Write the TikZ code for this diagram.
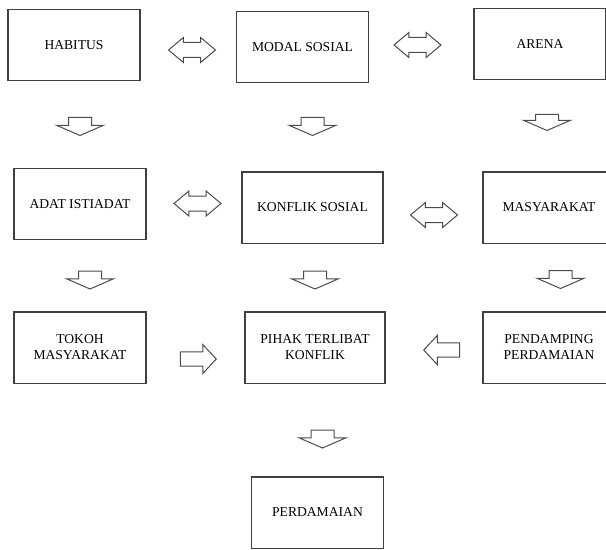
\documentclass[tikz,border=0pt]{standalone}
\usepackage{fontspec}
\setmainfont{Liberation Serif}
\usepackage{tikz}
\usetikzlibrary{shapes.arrows}
\tikzset{box/.style={rectangle, draw=black!75, line width=1pt, minimum width=99pt, minimum height=53.5pt, align=center, inner sep=1pt, font=\fontsize{10.2}{12}\selectfont},
box/.default={}}
\tikzset{down/.style={single arrow, draw=black!70, fill=white, line width=0.75pt, rotate=-90, inner xsep=0pt, inner ysep=8.25pt, minimum height=13.5pt, single arrow head extend=9pt, single arrow tip angle=133, single arrow head indent=0pt}}
\tikzset{side/.style={single arrow, draw=black!70, fill=white, line width=0.75pt, inner xsep=0pt, inner ysep=4.9pt, minimum height=27pt, single arrow head extend=5.6pt, single arrow tip angle=94, single arrow head indent=0pt}}
\tikzset{both/.style={double arrow, draw=black!70, fill=white, line width=0.75pt, inner xsep=0pt, inner ysep=5.25pt, minimum height=35.25pt, double arrow head extend=3.75pt, double arrow tip angle=80, double arrow head indent=0pt}}

\begin{document}
\begin{tikzpicture}[x=0.75pt,y=-0.75pt]
		\useasboundingbox (0,0) rectangle (606,549);
		% boxes
		\node[box] (habitus) at (74,45) {HABITUS};
		\node[box] (modal) at (302.5,47) {MODAL SOSIAL};
		\node[box] (arena) at (540,44) {ARENA};
		\node[box] (adat) at (80,204) {ADAT ISTIADAT};
		\node[box,minimum width=105.75pt] (konflik) at (312.5,207.5) {KONFLIK SOSIAL};
		\node[box] (masyarakat) at (549,207.5) {MASYARAKAT};
		\node[box] (tokoh) at (80,347.5) {TOKOH\\MASYARAKAT};
		\node[box,minimum width=105pt] (pihak) at (315,347.5) {PIHAK TERLIBAT\\KONFLIK};
		\node[box] (pendamping) at (549,347.5) {PENDAMPING\\PERDAMAIAN};
		\node[box] (perdamaian) at (317.5,512.5) {PERDAMAIAN};
		% arrows between
		\node[both] (habitus-modal) at (192,50) {};
		\node[both] (modal-arena) at (417.5,45) {};
		\node[both] (adat-konflik) at (197.5,203.5) {};
		\node[both] (konflik-masyarakat) at (434,215) {};
		\node[down] (habitus-adat) at (80,124) {};
		\node[down] (modal-konflik) at (312.5,124) {};
		\node[down,minimum height=12pt] (arena-masyarakat) at (547,120) {};
		\node[down] (adat-tokoh) at (90,277.5) {};
		\node[down] (konflik-pihak) at (315,277.5) {};
		\node[down] (masyarakat-pendamping) at (560.5,277) {};
		\node[side] (tokoh-pihak) at (195,359) {};
		\node[side,rotate=180] (pendamping-pihak) at (445,350) {};
		\node[down] (pihak-perdamaian) at (322.5,436.5) {};
\end{tikzpicture}
\end{document}
